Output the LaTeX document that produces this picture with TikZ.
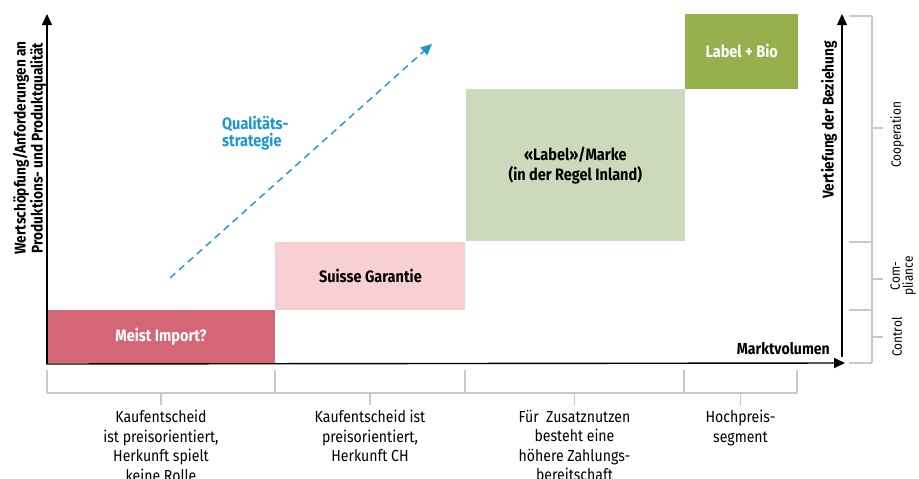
\documentclass[tikz,border=0pt]{standalone}
\usepackage{fontspec}
\setmainfont{Fira Sans}[FakeStretch=0.88]
\usetikzlibrary{positioning,calc,arrows.meta}
\definecolor{importred}{RGB}{213,102,118}
\definecolor{garantiepink}{RGB}{248,208,212}
\definecolor{markegreen}{RGB}{204,218,187}
\definecolor{biogreen}{RGB}{151,176,77}
\definecolor{strategyblue}{RGB}{28,150,211}
\definecolor{bracketgray}{RGB}{200,200,200}

\tikzset{
  segbox/.style={inner sep=0pt, font=\bfseries\fontsize{16.5}{20}\selectfont, align=center},
  axisline/.style={line width=1.4pt, -{Triangle[length=11pt,width=10pt]}},
  bracketline/.style={bracketgray, line width=1.2pt},
  axislabel/.style={font=\bfseries\fontsize{15.5}{15.5}\selectfont, align=center, rotate=90, inner sep=0pt},
  seglabel/.style={font=\fontsize{16}{19.5}\selectfont, align=center, anchor=north, inner sep=0pt},
  phaselabel/.style={font=\fontsize{13.5}{13}\selectfont, align=center, rotate=90, inner sep=0pt}
}

\begin{document}
\begin{tikzpicture}[x=1pt,y=-1pt]
		\useasboundingbox (0,0) rectangle (919,479);
		
		% segments
		\node[segbox, fill=importred, text=white, minimum width=228, minimum height=53] (import) at (161,336.5) {Meist Import?};
		\node[segbox, fill=garantiepink, minimum width=190, minimum height=68, anchor=south west] (garantie) at (import.north east) {Suisse Garantie};
		\node[segbox, fill=markegreen, minimum width=219, minimum height=152, anchor=south west] (marke) at (garantie.north east) {«Label»/Marke\\(in der Regel Inland)};
		\node[segbox, fill=biogreen, text=white, minimum width=113, minimum height=75, anchor=south west] (bio) at (marke.north east) {Label + Bio};
		
		% axes
		\coordinate (origin) at (47,364);
		\coordinate (ytop) at (47,14);
		\coordinate (xend) at (845,363);
		\coordinate (rbot) at (842,357);
		\coordinate (rtop) at (842,14);
		\draw[axisline] (origin) -- (ytop);
		\draw[axisline] ([xshift=-0.7pt]origin.center) -- (xend);
		\draw[axisline] (rbot) -- (rtop);
		
		\node[axislabel] (yaxis) at (29.5,148) {Wertschöpfung/Anforderungen an\\Produktions- und Produktqualität};
		\node[axislabel] (raxis) at (829,120) {Vertiefung der Beziehung};
		\node[font=\bfseries\fontsize{16}{18}\selectfont, anchor=east, inner sep=0pt] (xaxis) at (830,349) {Marktvolumen};
		
		% strategy arrow
		\coordinate (qstart) at (170,278);
		\coordinate (qend) at (432,44);
		\draw[strategyblue, line width=1.4pt, dash pattern=on 7pt off 5pt, -{Triangle[length=11pt,width=10pt]}] (qstart) -- (qend);
		\node[font=\bfseries\fontsize{16.5}{17.5}\selectfont, text=strategyblue, align=left, anchor=west, inner sep=0pt] (strategie) at (222,133) {Qualitäts-\\strategie};
		
		% bottom bracket
		\draw[bracketline] (47,393) -- (797,393);
		\foreach \x in {47,275,465,684,797}
		  \draw[bracketline] (\x,370) -- (\x,393);
		\foreach \x in {161,370,574.5,740.5}
		  \draw[bracketline] (\x,393) -- (\x,405);
		
		\node[seglabel] (buy1) at (161,410) {Kaufentscheid\\ist preisorientiert,\\Herkunft spielt\\keine Rolle};
		\node[seglabel] (buy2) at (370,410) {Kaufentscheid ist\\preisorientiert,\\Herkunft CH};
		\node[seglabel] (buy3) at (574.5,410) {Für~ Zusatznutzen\\besteht eine\\höhere Zahlungs-\\bereitschaft};
		\node[seglabel] (buy4) at (740.5,410) {Hochpreis-\\segment};
		
		% right bracket
		\draw[bracketline] (872,16) -- (872,363);
		\foreach \y in {16,242,310,363}
		  \draw[bracketline] (849,\y) -- (872,\y);
		\foreach \y in {128,279,337}
		  \draw[bracketline] (872,\y) -- (883,\y);
		
		\node[phaselabel] (coop) at (897,135) {Cooperation};
		\node[phaselabel] (compl) at (903,276) {Com-\\pliance};
		\node[phaselabel] (contr) at (897,337) {Control};
		
\end{tikzpicture}
\end{document}
